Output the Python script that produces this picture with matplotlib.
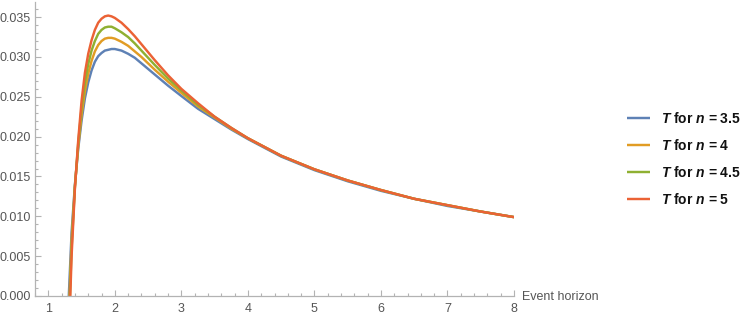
import matplotlib
matplotlib.use("Agg")
import matplotlib.pyplot as plt
from matplotlib.ticker import MultipleLocator, FormatStrFormatter

plt.rcParams['font.family'] = ['Liberation Sans', 'DejaVu Sans']
plt.rcParams['mathtext.fontset'] = 'custom'
plt.rcParams['mathtext.bfit'] = 'Liberation Sans:italic:bold'
plt.rcParams['mathtext.it'] = 'Liberation Sans:italic:bold'
plt.rcParams['mathtext.rm'] = 'Liberation Sans:bold'

# Event horizon values (shared grid)
r = [1.30, 1.35, 1.40, 1.45, 1.50, 1.55, 1.60, 1.65, 1.70, 1.75, 1.80, 1.85,
     1.90, 1.95, 2.00, 2.10, 2.20, 2.30, 2.40, 2.50, 2.60, 2.80, 3.00, 3.25,
     3.50, 3.75, 4.00, 4.50, 5.00, 5.50, 6.00, 6.50, 7.00, 7.50, 8.00]

T_n35 = [-0.0015, 0.0080, 0.0140, 0.0185, 0.0220, 0.0248, 0.0268, 0.0283, 0.0294,
         0.0301, 0.0305, 0.0308, 0.0309, 0.0310, 0.0310, 0.0308, 0.0304, 0.0299,
         0.0292, 0.0285, 0.0278, 0.0264, 0.0251, 0.0235, 0.0222, 0.0209, 0.0197,
         0.0175, 0.0158, 0.0144, 0.0132, 0.0122, 0.0113, 0.0106, 0.0099]

T_n4 = [-0.0040, 0.0070, 0.0138, 0.0188, 0.0227, 0.0257, 0.0279, 0.0295, 0.0307,
        0.0315, 0.0320, 0.0323, 0.0324, 0.0324, 0.0323, 0.0319, 0.0314, 0.0307,
        0.0300, 0.0292, 0.0284, 0.0269, 0.0255, 0.0238, 0.0224, 0.0210, 0.0198,
        0.0176, 0.0159, 0.0145, 0.0133, 0.0122, 0.0114, 0.0106, 0.0099]

T_n45 = [-0.0060, 0.0060, 0.0137, 0.0192, 0.0236, 0.0268, 0.0291, 0.0308, 0.0320,
         0.0329, 0.0334, 0.0337, 0.0338, 0.0338, 0.0336, 0.0331, 0.0325, 0.0317,
         0.0308, 0.0299, 0.0290, 0.0273, 0.0258, 0.0240, 0.0225, 0.0211, 0.0198,
         0.0176, 0.0159, 0.0145, 0.0133, 0.0122, 0.0114, 0.0106, 0.0099]

T_n5 = [-0.0080, 0.0050, 0.0135, 0.0196, 0.0245, 0.0280, 0.0304, 0.0321, 0.0334,
        0.0343, 0.0348, 0.0351, 0.0352, 0.0351, 0.0349, 0.0343, 0.0335, 0.0326,
        0.0316, 0.0306, 0.0296, 0.0277, 0.0260, 0.0242, 0.0225, 0.0211, 0.0198,
        0.0176, 0.0159, 0.0145, 0.0133, 0.0122, 0.0114, 0.0106, 0.0099]

labels = [r"$T$ for $n$ = 3.5", r"$T$ for $n$ = 4", r"$T$ for $n$ = 4.5", r"$T$ for $n$ = 5"]
colors = ["#5E81B5", "#E19C24", "#8FB032", "#EB6235"]
series = [T_n35, T_n4, T_n45, T_n5]

fig = plt.figure(figsize=(7.47, 3.20), dpi=100)
ax = fig.add_axes([35/747, 1-296/320, (514-35)/747, (296-2)/320])

for T, c, lab in zip(series, colors, labels):
    ax.plot(r, T, color=c, lw=1.75, label=lab, solid_capstyle='butt')

ax.set_xlim(0.8, 8.0)
ax.set_ylim(0.0, 0.0369)

axis_col = "#b3b3b3"
lab_col = "#555555"
for s in ["top", "right"]:
    ax.spines[s].set_visible(False)
for s in ["left", "bottom"]:
    ax.spines[s].set_color(axis_col)
    ax.spines[s].set_linewidth(0.9)

ax.xaxis.set_major_locator(MultipleLocator(1))
ax.xaxis.set_minor_locator(MultipleLocator(0.2))
ax.yaxis.set_major_locator(MultipleLocator(0.005))
ax.yaxis.set_minor_locator(MultipleLocator(0.001))
ax.yaxis.set_major_formatter(FormatStrFormatter("%.3f"))
ax.tick_params(which='both', direction='in', color=axis_col, labelcolor=lab_col,
               labelsize=9, width=0.8)
ax.tick_params(which='major', length=4.5)
ax.tick_params(which='minor', length=2.5)
ax.tick_params(axis='x', pad=5)
ax.tick_params(axis='y', pad=3)

ax.text(522/747, 1-297/320, "Event horizon", transform=fig.transFigure,
        ha='left', va='center', fontsize=9, color=lab_col)

leg = fig.legend(loc='center left', bbox_to_anchor=(614/747, 1-159/320),
                 frameon=False, handlelength=1.7, handletextpad=0.8,
                 labelspacing=0.85, prop={'size': 10, 'weight': 'bold'})
for t in leg.get_texts():
    t.set_color("#111111")

fig.savefig("out.png", dpi=100)
